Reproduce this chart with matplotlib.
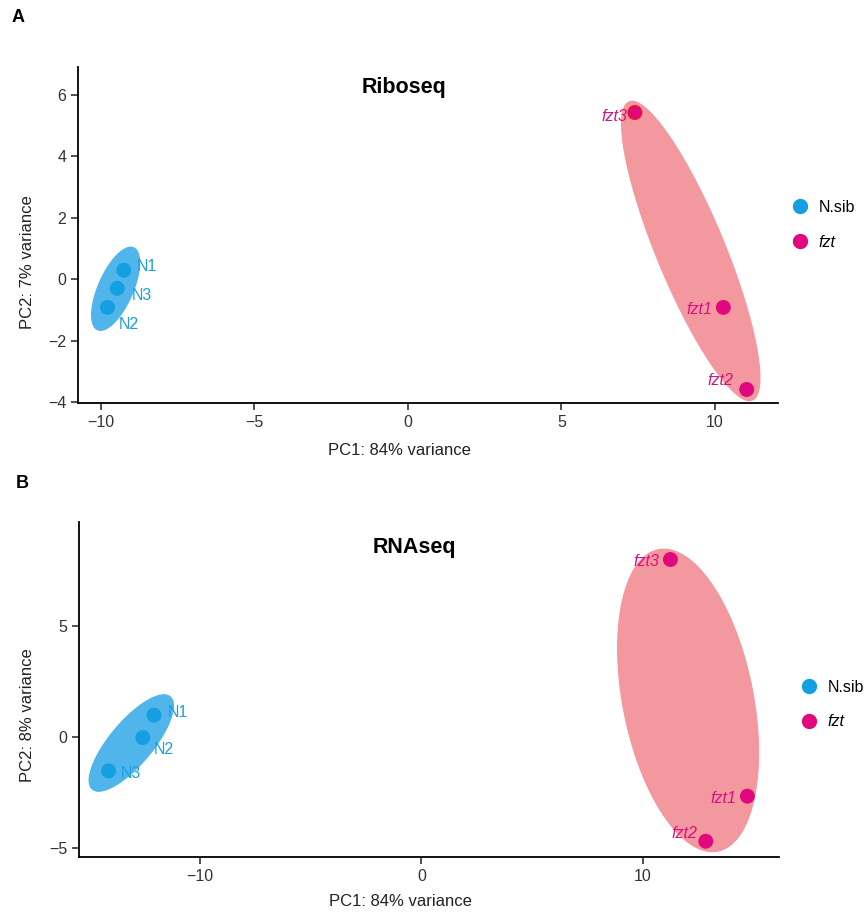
import numpy as np
import matplotlib
matplotlib.use('Agg')
import matplotlib.pyplot as plt
from matplotlib.lines import Line2D

plt.rcParams['font.family'] = ['Liberation Sans', 'DejaVu Sans']

# ---------------- data ----------------
samples = ['N1', 'N2', 'N3', 'fzt1', 'fzt2', 'fzt3']
groups = ['N.sib', 'N.sib', 'N.sib', 'fzt', 'fzt', 'fzt']
group_order = ['N.sib', 'fzt']

ribo_pc1 = [-9.25, -9.78, -9.46, 10.27, 11.03, 7.39]
ribo_pc2 = [0.29, -0.92, -0.30, -0.92, -3.59, 5.42]
ribo_var = [84, 7]

rna_pc1 = [-12.09, -12.59, -14.14, 14.74, 12.86, 11.26]
rna_pc2 = [0.98, -0.03, -1.53, -2.67, -4.70, 7.99]
rna_var = [84, 8]

ribo_xticks = [-10, -5, 0, 5, 10]
ribo_yticks = [-4, -2, 0, 2, 4, 6]
rna_xticks = [-10, 0, 10]
rna_yticks = [-5, 0, 5]

# ---------------- style ----------------
W, H = 865, 915
point_col = {'N.sib': '#159FE2', 'fzt': '#E1087E'}
ell_col = {'N.sib': '#4FB5EA', 'fzt': '#F3989F'}
text_col = {'N.sib': '#1C9FDD', 'fzt': '#D9107F'}
pads = {'N.sib': (24.5, 16.0), 'fzt': (12.0, 25.5)}   # px expansion of the ellipse

# label offsets (pixels, y up)
ribo_offsets = [(13, 4), (11, -17), (14, -7), (-11, -2), (-13, 9), (-8, -4)]
rna_offsets = [(14, 3), (11, -12), (12, -3), (-11, -2), (-8, 8), (-11, -2)]

fig = plt.figure(figsize=(W / 100, H / 100), dpi=100)


def px_axes(l, t, r, b):
    return [l / W, 1 - b / H, (r - l) / W, (b - t) / H]


def enclosing_ellipse(ax, xs, ys, pad_major, pad_minor):
    x0, x1 = ax.get_xlim()
    y0, y1 = ax.get_ylim()
    bb = ax.get_position()
    sx = bb.width * W / (x1 - x0)
    sy = bb.height * H / (y1 - y0)
    P = np.column_stack([np.asarray(xs) * sx, np.asarray(ys) * sy])
    m = P.mean(0)
    C = np.cov((P - m).T)
    evals, evecs = np.linalg.eigh(C)
    u = evecs[:, 1]
    n = evecs[:, 0]
    # centre: midpoint of the farthest pair of points
    d = np.linalg.norm(P[:, None, :] - P[None, :, :], axis=2)
    i, j = np.unravel_index(np.argmax(d), d.shape)
    c = (P[i] + P[j]) / 2
    pu = (P - c) @ u
    pn = (P - c) @ n
    a = np.abs(pu).max() + pad_major
    b = np.abs(pn).max() + pad_minor
    t = np.linspace(0, 2 * np.pi, 240)
    E = c + np.outer(a * np.cos(t), u) + np.outer(b * np.sin(t), n)
    return E[:, 0] / sx, E[:, 1] / sy


def draw_panel(rect, pc1, pc2, var, xlim, ylim, xticks, yticks, offsets,
               title, title_xy, xlab_xy, ylab_xy, letter, letter_xy,
               legend_xy, highlight=None):
    ax = fig.add_axes(px_axes(*rect))
    ax.set_xlim(*xlim)
    ax.set_ylim(*ylim)
    for s in ['top', 'right']:
        ax.spines[s].set_visible(False)
    for s in ['left', 'bottom']:
        ax.spines[s].set_linewidth(1.3)
        ax.spines[s].set_color('black')
    ax.set_xticks(xticks)
    ax.set_yticks(yticks)
    ax.set_xticklabels([('\u2212' + str(-v)) if v < 0 else str(v) for v in xticks])
    ax.set_yticklabels([('\u2212' + str(-v)) if v < 0 else str(v) for v in yticks])
    ax.tick_params(length=5, width=1.2, color='#333333', labelcolor='#333333',
                   labelsize=11.5, pad=3.5)

    pc1 = np.asarray(pc1)
    pc2 = np.asarray(pc2)
    g = np.asarray(groups)
    for grp in group_order:
        mk = g == grp
        ex, ey = enclosing_ellipse(ax, pc1[mk], pc2[mk], *pads[grp])
        ax.fill(ex, ey, color=ell_col[grp], lw=0.8, ec=ell_col[grp], zorder=1)
    for grp in group_order:
        mk = g == grp
        edges = []
        for s in np.asarray(samples)[mk]:
            edges.append('#E8141E' if (highlight is not None and s == highlight) else point_col[grp])
        ax.scatter(pc1[mk], pc2[mk], s=95, c=point_col[grp], edgecolors=edges,
                   linewidths=1.0, zorder=3)
    for i, s in enumerate(samples):
        grp = groups[i]
        dx, dy = offsets[i]
        ax.annotate(s, (pc1[i], pc2[i]), xytext=(dx, dy), textcoords='offset pixels',
                    ha='left' if dx > 0 else 'right', va='center',
                    fontsize=11.5, color=text_col[grp],
                    style='normal' if grp == 'N.sib' else 'italic', zorder=4)

    fig.text(title_xy[0] / W, 1 - title_xy[1] / H, title, ha='center', va='baseline',
             fontsize=15.5, fontweight='bold')
    fig.text(xlab_xy[0] / W, 1 - xlab_xy[1] / H, f'PC1: {var[0]}% variance',
             ha='center', va='baseline', fontsize=12, color='#222222')
    fig.text(ylab_xy[0] / W, 1 - ylab_xy[1] / H, f'PC2: {var[1]}% variance',
             ha='center', va='center', rotation=90, fontsize=12, color='#222222')
    fig.text(letter_xy[0] / W, 1 - letter_xy[1] / H, letter, ha='center', va='center',
             fontsize=13, fontweight='bold')

    handles = [Line2D([], [], ls='', marker='o', ms=10, mfc=point_col[grp], mec=point_col[grp])
               for grp in group_order]
    leg = ax.legend(handles, group_order, loc='center left',
                    bbox_to_anchor=(legend_xy[0] / W, 1 - legend_xy[1] / H),
                    bbox_transform=fig.transFigure, frameon=False, fontsize=11.5,
                    handlelength=1.0, handletextpad=0.65, labelspacing=1.25,
                    borderpad=0, borderaxespad=0)
    for t, grp in zip(leg.get_texts(), group_order):
        if grp == 'fzt':
            t.set_style('italic')
    return ax


draw_panel((78, 67, 778, 403), ribo_pc1, ribo_pc2, ribo_var,
           (-10.74, 12.05), (-4.03, 6.9), ribo_xticks, ribo_yticks, ribo_offsets,
           'Riboseq', (404, 93), (399, 455), (28, 262), 'A', (18, 17),
           (792, 225), highlight='fzt3')

draw_panel((79, 522, 779, 857), rna_pc1, rna_pc2, rna_var,
           (-15.48, 16.17), (-5.41, 9.68), rna_xticks, rna_yticks, rna_offsets,
           'RNAseq', (414, 553), (400, 906), (28, 715), 'B', (22, 484),
           (801, 704.5))

fig.savefig('out.png', dpi=100)
